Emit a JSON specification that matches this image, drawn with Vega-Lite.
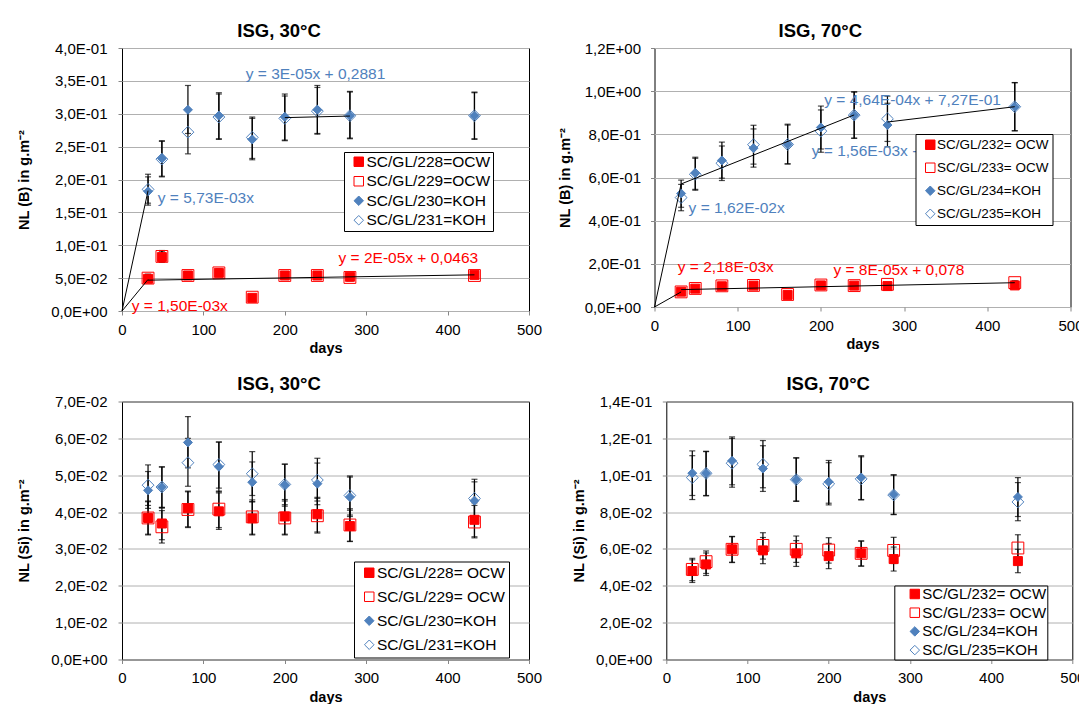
{
"$schema":"https://vega.github.io/schema/vega-lite/v6.json",
"background":"white",
"padding":{"left":16,"top":21,"right":0,"bottom":0},
"spacing":18.5,
"datasets":{
"pts":[
{"p":"B30","s":"SC/GL/228=OCW","k":"f","d":32,"v":0.049,"lo":0.044,"hi":0.055},
{"p":"B30","s":"SC/GL/228=OCW","k":"f","d":49,"v":0.082,"lo":0.074,"hi":0.091},
{"p":"B30","s":"SC/GL/228=OCW","k":"f","d":81,"v":0.054,"lo":0.049,"hi":0.059},
{"p":"B30","s":"SC/GL/228=OCW","k":"f","d":119,"v":0.058,"lo":0.053,"hi":0.063},
{"p":"B30","s":"SC/GL/228=OCW","k":"f","d":160,"v":0.020,"lo":0.018,"hi":0.022},
{"p":"B30","s":"SC/GL/228=OCW","k":"f","d":200,"v":0.054,"lo":0.049,"hi":0.059},
{"p":"B30","s":"SC/GL/228=OCW","k":"f","d":240,"v":0.054,"lo":0.049,"hi":0.059},
{"p":"B30","s":"SC/GL/228=OCW","k":"f","d":280,"v":0.052,"lo":0.047,"hi":0.057},
{"p":"B30","s":"SC/GL/228=OCW","k":"f","d":433,"v":0.055,"lo":0.050,"hi":0.060},
{"p":"B30","s":"SC/GL/229=OCW","k":"o","d":32,"v":0.050,"lo":0.045,"hi":0.056},
{"p":"B30","s":"SC/GL/229=OCW","k":"o","d":49,"v":0.083,"lo":0.075,"hi":0.092},
{"p":"B30","s":"SC/GL/229=OCW","k":"o","d":81,"v":0.054,"lo":0.049,"hi":0.059},
{"p":"B30","s":"SC/GL/229=OCW","k":"o","d":119,"v":0.058,"lo":0.053,"hi":0.064},
{"p":"B30","s":"SC/GL/229=OCW","k":"o","d":160,"v":0.021,"lo":0.019,"hi":0.023},
{"p":"B30","s":"SC/GL/229=OCW","k":"o","d":200,"v":0.054,"lo":0.049,"hi":0.059},
{"p":"B30","s":"SC/GL/229=OCW","k":"o","d":240,"v":0.054,"lo":0.049,"hi":0.059},
{"p":"B30","s":"SC/GL/229=OCW","k":"o","d":280,"v":0.051,"lo":0.046,"hi":0.056},
{"p":"B30","s":"SC/GL/229=OCW","k":"o","d":433,"v":0.054,"lo":0.049,"hi":0.059},
{"p":"B30","s":"SC/GL/230=KOH","k":"f","d":32,"v":0.182,"lo":0.161,"hi":0.204},
{"p":"B30","s":"SC/GL/230=KOH","k":"f","d":49,"v":0.232,"lo":0.204,"hi":0.259},
{"p":"B30","s":"SC/GL/230=KOH","k":"f","d":81,"v":0.306,"lo":0.270,"hi":0.343},
{"p":"B30","s":"SC/GL/230=KOH","k":"f","d":119,"v":0.297,"lo":0.261,"hi":0.332},
{"p":"B30","s":"SC/GL/230=KOH","k":"f","d":160,"v":0.261,"lo":0.230,"hi":0.293},
{"p":"B30","s":"SC/GL/230=KOH","k":"f","d":200,"v":0.295,"lo":0.260,"hi":0.330},
{"p":"B30","s":"SC/GL/230=KOH","k":"f","d":240,"v":0.306,"lo":0.269,"hi":0.343},
{"p":"B30","s":"SC/GL/230=KOH","k":"f","d":280,"v":0.297,"lo":0.262,"hi":0.334},
{"p":"B30","s":"SC/GL/230=KOH","k":"f","d":433,"v":0.297,"lo":0.261,"hi":0.333},
{"p":"B30","s":"SC/GL/231=KOH","k":"o","d":32,"v":0.185,"lo":0.164,"hi":0.208},
{"p":"B30","s":"SC/GL/231=KOH","k":"o","d":49,"v":0.231,"lo":0.205,"hi":0.258},
{"p":"B30","s":"SC/GL/231=KOH","k":"o","d":81,"v":0.272,"lo":0.239,"hi":0.305},
{"p":"B30","s":"SC/GL/231=KOH","k":"o","d":119,"v":0.295,"lo":0.262,"hi":0.330},
{"p":"B30","s":"SC/GL/231=KOH","k":"o","d":160,"v":0.264,"lo":0.232,"hi":0.295},
{"p":"B30","s":"SC/GL/231=KOH","k":"o","d":200,"v":0.293,"lo":0.259,"hi":0.327},
{"p":"B30","s":"SC/GL/231=KOH","k":"o","d":240,"v":0.304,"lo":0.270,"hi":0.340},
{"p":"B30","s":"SC/GL/231=KOH","k":"o","d":280,"v":0.297,"lo":0.263,"hi":0.333},
{"p":"B30","s":"SC/GL/231=KOH","k":"o","d":433,"v":0.297,"lo":0.262,"hi":0.332},

{"p":"B70","s":"SC/GL/232= OCW","k":"f","d":32,"v":0.071,"lo":0.065,"hi":0.077},
{"p":"B70","s":"SC/GL/232= OCW","k":"f","d":49,"v":0.085,"lo":0.078,"hi":0.092},
{"p":"B70","s":"SC/GL/232= OCW","k":"f","d":81,"v":0.096,"lo":0.088,"hi":0.104},
{"p":"B70","s":"SC/GL/232= OCW","k":"f","d":119,"v":0.099,"lo":0.091,"hi":0.107},
{"p":"B70","s":"SC/GL/232= OCW","k":"f","d":160,"v":0.056,"lo":0.051,"hi":0.061},
{"p":"B70","s":"SC/GL/232= OCW","k":"f","d":200,"v":0.100,"lo":0.092,"hi":0.108},
{"p":"B70","s":"SC/GL/232= OCW","k":"f","d":240,"v":0.099,"lo":0.091,"hi":0.107},
{"p":"B70","s":"SC/GL/232= OCW","k":"f","d":280,"v":0.097,"lo":0.089,"hi":0.105},
{"p":"B70","s":"SC/GL/232= OCW","k":"f","d":433,"v":0.100,"lo":0.092,"hi":0.108},
{"p":"B70","s":"SC/GL/233= OCW","k":"o","d":32,"v":0.070,"lo":0.064,"hi":0.076},
{"p":"B70","s":"SC/GL/233= OCW","k":"o","d":49,"v":0.086,"lo":0.079,"hi":0.093},
{"p":"B70","s":"SC/GL/233= OCW","k":"o","d":81,"v":0.098,"lo":0.090,"hi":0.106},
{"p":"B70","s":"SC/GL/233= OCW","k":"o","d":119,"v":0.100,"lo":0.092,"hi":0.108},
{"p":"B70","s":"SC/GL/233= OCW","k":"o","d":160,"v":0.058,"lo":0.053,"hi":0.063},
{"p":"B70","s":"SC/GL/233= OCW","k":"o","d":200,"v":0.102,"lo":0.094,"hi":0.110},
{"p":"B70","s":"SC/GL/233= OCW","k":"o","d":240,"v":0.099,"lo":0.091,"hi":0.107},
{"p":"B70","s":"SC/GL/233= OCW","k":"o","d":280,"v":0.105,"lo":0.097,"hi":0.113},
{"p":"B70","s":"SC/GL/233= OCW","k":"o","d":433,"v":0.113,"lo":0.104,"hi":0.122},
{"p":"B70","s":"SC/GL/234=KOH","k":"f","d":32,"v":0.526,"lo":0.462,"hi":0.588},
{"p":"B70","s":"SC/GL/234=KOH","k":"f","d":49,"v":0.620,"lo":0.545,"hi":0.694},
{"p":"B70","s":"SC/GL/234=KOH","k":"f","d":81,"v":0.679,"lo":0.597,"hi":0.764},
{"p":"B70","s":"SC/GL/234=KOH","k":"f","d":119,"v":0.736,"lo":0.648,"hi":0.825},
{"p":"B70","s":"SC/GL/234=KOH","k":"f","d":160,"v":0.753,"lo":0.663,"hi":0.847},
{"p":"B70","s":"SC/GL/234=KOH","k":"f","d":200,"v":0.832,"lo":0.732,"hi":0.931},
{"p":"B70","s":"SC/GL/234=KOH","k":"f","d":240,"v":0.889,"lo":0.782,"hi":0.997},
{"p":"B70","s":"SC/GL/234=KOH","k":"f","d":280,"v":0.843,"lo":0.742,"hi":0.944},
{"p":"B70","s":"SC/GL/234=KOH","k":"f","d":433,"v":0.928,"lo":0.816,"hi":1.040},
{"p":"B70","s":"SC/GL/235=KOH","k":"o","d":32,"v":0.507,"lo":0.446,"hi":0.568},
{"p":"B70","s":"SC/GL/235=KOH","k":"o","d":49,"v":0.615,"lo":0.541,"hi":0.689},
{"p":"B70","s":"SC/GL/235=KOH","k":"o","d":81,"v":0.666,"lo":0.586,"hi":0.746},
{"p":"B70","s":"SC/GL/235=KOH","k":"o","d":119,"v":0.752,"lo":0.662,"hi":0.842},
{"p":"B70","s":"SC/GL/235=KOH","k":"o","d":160,"v":0.753,"lo":0.663,"hi":0.843},
{"p":"B70","s":"SC/GL/235=KOH","k":"o","d":200,"v":0.815,"lo":0.717,"hi":0.913},
{"p":"B70","s":"SC/GL/235=KOH","k":"o","d":240,"v":0.889,"lo":0.782,"hi":0.996},
{"p":"B70","s":"SC/GL/235=KOH","k":"o","d":280,"v":0.872,"lo":0.767,"hi":0.977},
{"p":"B70","s":"SC/GL/235=KOH","k":"o","d":433,"v":0.928,"lo":0.817,"hi":1.039},

{"p":"S30","s":"SC/GL/228= OCW","k":"f","d":32,"v":0.0384,"lo":0.0338,"hi":0.0430},
{"p":"S30","s":"SC/GL/228= OCW","k":"f","d":49,"v":0.0369,"lo":0.0325,"hi":0.0411},
{"p":"S30","s":"SC/GL/228= OCW","k":"f","d":81,"v":0.0410,"lo":0.0360,"hi":0.0457},
{"p":"S30","s":"SC/GL/228= OCW","k":"f","d":119,"v":0.0402,"lo":0.0353,"hi":0.0452},
{"p":"S30","s":"SC/GL/228= OCW","k":"f","d":160,"v":0.0383,"lo":0.0338,"hi":0.0428},
{"p":"S30","s":"SC/GL/228= OCW","k":"f","d":200,"v":0.0388,"lo":0.0340,"hi":0.0434},
{"p":"S30","s":"SC/GL/228= OCW","k":"f","d":240,"v":0.0394,"lo":0.0346,"hi":0.0440},
{"p":"S30","s":"SC/GL/228= OCW","k":"f","d":280,"v":0.0362,"lo":0.0320,"hi":0.0405},
{"p":"S30","s":"SC/GL/228= OCW","k":"f","d":433,"v":0.0379,"lo":0.0333,"hi":0.0425},
{"p":"S30","s":"SC/GL/229= OCW","k":"o","d":32,"v":0.0384,"lo":0.0340,"hi":0.0428},
{"p":"S30","s":"SC/GL/229= OCW","k":"o","d":49,"v":0.0360,"lo":0.0316,"hi":0.0404},
{"p":"S30","s":"SC/GL/229= OCW","k":"o","d":81,"v":0.0407,"lo":0.0358,"hi":0.0455},
{"p":"S30","s":"SC/GL/229= OCW","k":"o","d":119,"v":0.0408,"lo":0.0358,"hi":0.0457},
{"p":"S30","s":"SC/GL/229= OCW","k":"o","d":160,"v":0.0387,"lo":0.0340,"hi":0.0433},
{"p":"S30","s":"SC/GL/229= OCW","k":"o","d":200,"v":0.0384,"lo":0.0338,"hi":0.0430},
{"p":"S30","s":"SC/GL/229= OCW","k":"o","d":240,"v":0.0390,"lo":0.0343,"hi":0.0437},
{"p":"S30","s":"SC/GL/229= OCW","k":"o","d":280,"v":0.0365,"lo":0.0321,"hi":0.0409},
{"p":"S30","s":"SC/GL/229= OCW","k":"o","d":433,"v":0.0373,"lo":0.0330,"hi":0.0418},
{"p":"S30","s":"SC/GL/230=KOH","k":"f","d":32,"v":0.0459,"lo":0.0410,"hi":0.0510},
{"p":"S30","s":"SC/GL/230=KOH","k":"f","d":49,"v":0.0468,"lo":0.0412,"hi":0.0522},
{"p":"S30","s":"SC/GL/230=KOH","k":"f","d":81,"v":0.0589,"lo":0.0520,"hi":0.0659},
{"p":"S30","s":"SC/GL/230=KOH","k":"f","d":119,"v":0.0523,"lo":0.0455,"hi":0.0590},
{"p":"S30","s":"SC/GL/230=KOH","k":"f","d":160,"v":0.0481,"lo":0.0428,"hi":0.0536},
{"p":"S30","s":"SC/GL/230=KOH","k":"f","d":200,"v":0.0474,"lo":0.0416,"hi":0.0530},
{"p":"S30","s":"SC/GL/230=KOH","k":"f","d":240,"v":0.0477,"lo":0.0420,"hi":0.0533},
{"p":"S30","s":"SC/GL/230=KOH","k":"f","d":280,"v":0.0441,"lo":0.0388,"hi":0.0495},
{"p":"S30","s":"SC/GL/230=KOH","k":"f","d":433,"v":0.0431,"lo":0.0380,"hi":0.0482},
{"p":"S30","s":"SC/GL/231=KOH","k":"o","d":32,"v":0.0473,"lo":0.0418,"hi":0.0528},
{"p":"S30","s":"SC/GL/231=KOH","k":"o","d":49,"v":0.0468,"lo":0.0413,"hi":0.0523},
{"p":"S30","s":"SC/GL/231=KOH","k":"o","d":81,"v":0.0534,"lo":0.0470,"hi":0.0600},
{"p":"S30","s":"SC/GL/231=KOH","k":"o","d":119,"v":0.0529,"lo":0.0465,"hi":0.0590},
{"p":"S30","s":"SC/GL/231=KOH","k":"o","d":160,"v":0.0504,"lo":0.0445,"hi":0.0564},
{"p":"S30","s":"SC/GL/231=KOH","k":"o","d":200,"v":0.0475,"lo":0.0420,"hi":0.0530},
{"p":"S30","s":"SC/GL/231=KOH","k":"o","d":240,"v":0.0487,"lo":0.0430,"hi":0.0546},
{"p":"S30","s":"SC/GL/231=KOH","k":"o","d":280,"v":0.0445,"lo":0.0392,"hi":0.0498},
{"p":"S30","s":"SC/GL/231=KOH","k":"o","d":433,"v":0.0437,"lo":0.0385,"hi":0.0489},

{"p":"S70","s":"SC/GL/232= OCW","k":"f","d":32,"v":0.0480,"lo":0.0418,"hi":0.0541},
{"p":"S70","s":"SC/GL/232= OCW","k":"f","d":49,"v":0.0516,"lo":0.0456,"hi":0.0578},
{"p":"S70","s":"SC/GL/232= OCW","k":"f","d":81,"v":0.0598,"lo":0.0526,"hi":0.0668},
{"p":"S70","s":"SC/GL/232= OCW","k":"f","d":119,"v":0.0592,"lo":0.0520,"hi":0.0662},
{"p":"S70","s":"SC/GL/232= OCW","k":"f","d":160,"v":0.0576,"lo":0.0505,"hi":0.0645},
{"p":"S70","s":"SC/GL/232= OCW","k":"f","d":200,"v":0.0561,"lo":0.0493,"hi":0.0630},
{"p":"S70","s":"SC/GL/232= OCW","k":"f","d":240,"v":0.0576,"lo":0.0507,"hi":0.0643},
{"p":"S70","s":"SC/GL/232= OCW","k":"f","d":280,"v":0.0545,"lo":0.0480,"hi":0.0610},
{"p":"S70","s":"SC/GL/232= OCW","k":"f","d":433,"v":0.0534,"lo":0.0471,"hi":0.0598},
{"p":"S70","s":"SC/GL/233= OCW","k":"o","d":32,"v":0.0489,"lo":0.0428,"hi":0.0549},
{"p":"S70","s":"SC/GL/233= OCW","k":"o","d":49,"v":0.0531,"lo":0.0467,"hi":0.0589},
{"p":"S70","s":"SC/GL/233= OCW","k":"o","d":81,"v":0.0598,"lo":0.0528,"hi":0.0666},
{"p":"S70","s":"SC/GL/233= OCW","k":"o","d":119,"v":0.0619,"lo":0.0545,"hi":0.0688},
{"p":"S70","s":"SC/GL/233= OCW","k":"o","d":160,"v":0.0598,"lo":0.0527,"hi":0.0670},
{"p":"S70","s":"SC/GL/233= OCW","k":"o","d":200,"v":0.0594,"lo":0.0523,"hi":0.0661},
{"p":"S70","s":"SC/GL/233= OCW","k":"o","d":240,"v":0.0576,"lo":0.0507,"hi":0.0643},
{"p":"S70","s":"SC/GL/233= OCW","k":"o","d":280,"v":0.0592,"lo":0.0521,"hi":0.0663},
{"p":"S70","s":"SC/GL/233= OCW","k":"o","d":433,"v":0.0605,"lo":0.0532,"hi":0.0677},
{"p":"S70","s":"SC/GL/234=KOH","k":"f","d":32,"v":0.1011,"lo":0.0890,"hi":0.1132},
{"p":"S70","s":"SC/GL/234=KOH","k":"f","d":49,"v":0.1011,"lo":0.0890,"hi":0.1128},
{"p":"S70","s":"SC/GL/234=KOH","k":"f","d":81,"v":0.1078,"lo":0.0948,"hi":0.1208},
{"p":"S70","s":"SC/GL/234=KOH","k":"f","d":119,"v":0.1036,"lo":0.0912,"hi":0.1160},
{"p":"S70","s":"SC/GL/234=KOH","k":"f","d":160,"v":0.0976,"lo":0.0860,"hi":0.1093},
{"p":"S70","s":"SC/GL/234=KOH","k":"f","d":200,"v":0.0964,"lo":0.0848,"hi":0.1080},
{"p":"S70","s":"SC/GL/234=KOH","k":"f","d":240,"v":0.0987,"lo":0.0868,"hi":0.1106},
{"p":"S70","s":"SC/GL/234=KOH","k":"f","d":280,"v":0.0895,"lo":0.0788,"hi":0.1003},
{"p":"S70","s":"SC/GL/234=KOH","k":"f","d":433,"v":0.0882,"lo":0.0776,"hi":0.0987},
{"p":"S70","s":"SC/GL/235=KOH","k":"o","d":32,"v":0.0987,"lo":0.0868,"hi":0.1106},
{"p":"S70","s":"SC/GL/235=KOH","k":"o","d":49,"v":0.1010,"lo":0.0888,"hi":0.1130},
{"p":"S70","s":"SC/GL/235=KOH","k":"o","d":81,"v":0.1065,"lo":0.0935,"hi":0.1200},
{"p":"S70","s":"SC/GL/235=KOH","k":"o","d":119,"v":0.1059,"lo":0.0932,"hi":0.1188},
{"p":"S70","s":"SC/GL/235=KOH","k":"o","d":160,"v":0.0976,"lo":0.0858,"hi":0.1095},
{"p":"S70","s":"SC/GL/235=KOH","k":"o","d":200,"v":0.0953,"lo":0.0839,"hi":0.1068},
{"p":"S70","s":"SC/GL/235=KOH","k":"o","d":240,"v":0.0980,"lo":0.0866,"hi":0.1100},
{"p":"S70","s":"SC/GL/235=KOH","k":"o","d":280,"v":0.0893,"lo":0.0786,"hi":0.1000},
{"p":"S70","s":"SC/GL/235=KOH","k":"o","d":433,"v":0.0855,"lo":0.0753,"hi":0.0960}
],
"trend":[
{"p":"B30","seg":"o1","d":0,"v":0},{"p":"B30","seg":"o1","d":32,"v":0.048},
{"p":"B30","seg":"o2","d":32,"v":0.0469},{"p":"B30","seg":"o2","d":433,"v":0.0550},
{"p":"B30","seg":"k1","d":0,"v":0},{"p":"B30","seg":"k1","d":32,"v":0.183},
{"p":"B30","seg":"k2","d":200,"v":0.2941},{"p":"B30","seg":"k2","d":280,"v":0.2965},
{"p":"B70","seg":"o1","d":0,"v":0},{"p":"B70","seg":"o1","d":32,"v":0.0698},
{"p":"B70","seg":"o2","d":32,"v":0.0806},{"p":"B70","seg":"o2","d":433,"v":0.1126},
{"p":"B70","seg":"k1","d":0,"v":0},{"p":"B70","seg":"k1","d":32,"v":0.570},
{"p":"B70","seg":"k2","d":32,"v":0.570},{"p":"B70","seg":"k2","d":240,"v":0.890},
{"p":"B70","seg":"k3","d":280,"v":0.857},{"p":"B70","seg":"k3","d":433,"v":0.928}
],
"labels":[
{"p":"B30","t":"y = 3E-05x + 0,2881","d":152,"v":0.361,"g":"KOH"},
{"p":"B30","t":"y = 5,73E-03x","d":44,"v":0.172,"g":"KOH"},
{"p":"B30","t":"y = 2E-05x + 0,0463","d":266,"v":0.081,"g":"OCW"},
{"p":"B30","t":"y = 1,50E-03x","d":12,"v":0.0076,"g":"OCW"},
{"p":"B70","t":"y = 4,64E-04x + 7,27E-01","d":204,"v":0.960,"g":"KOH"},
{"p":"B70","t":"y = 1,56E-03x + 5,20E-01","d":189,"v":0.722,"g":"KOH"},
{"p":"B70","t":"y = 1,62E-02x","d":41,"v":0.458,"g":"KOH"},
{"p":"B70","t":"y = 2,18E-03x","d":28,"v":0.187,"g":"OCW"},
{"p":"B70","t":"y = 8E-05x + 0,078","d":215,"v":0.173,"g":"OCW"}
]
},
"vconcat":[
{"hconcat":[
{"width":407,"height":263,"title":{"text":"ISG, 30°C"},
"layer":[
{"data":{"name":"pts"},"transform":[{"filter":"datum.p == 'B30'"}],
"mark":{"type":"errorbar","color":"black","thickness":1.2,"ticks":{"size":6}},
"encoding":{"x":{"field":"d","type":"quantitative","title":"days","scale":{"domain":[0,500],"nice":false},"axis":{"values":[0,100,200,300,400,500]}},
"y":{"field":"lo","type":"quantitative","title":"NL (B) in g.m⁻²","scale":{"domain":[0,0.4],"nice":false},"axis":{"values":[0,0.05,0.1,0.15,0.2,0.25,0.3,0.35,0.4],"titlePadding":19}},"y2":{"field":"hi"}}},
{"data":{"name":"pts"},"transform":[{"filter":"datum.p == 'B30' && datum.k == 'f'"}],
"mark":{"type":"point","size":81,"strokeWidth":1,"opacity":1},
"encoding":{"x":{"field":"d","type":"quantitative","title":"days","scale":{"domain":[0,500],"nice":false},"axis":{"values":[0,100,200,300,400,500]}},
"y":{"field":"v","type":"quantitative","title":"NL (B) in g.m⁻²","scale":{"domain":[0,0.4],"nice":false},"axis":{"values":[0,0.05,0.1,0.15,0.2,0.25,0.3,0.35,0.4],"titlePadding":19}},
"shape":{"field":"s","type":"nominal","title":null,"scale":{"domain":["SC/GL/228=OCW","SC/GL/229=OCW","SC/GL/230=KOH","SC/GL/231=KOH"],"range":["square","square","diamond","diamond"]},"legend":{"orient":"none","legendX":222,"legendY":104,"labelFontSize":15.5,"rowPadding":2.5,"padding":2,"symbolOffset":5,"labelExpr":"datum.label + '\u00a0\u00a0\u00a0\u00a0\u00a0'"}},
"fill":{"field":"s","type":"nominal","title":null,"scale":{"domain":["SC/GL/228=OCW","SC/GL/229=OCW","SC/GL/230=KOH","SC/GL/231=KOH"],"range":["#FF0000","transparent","#4F81BD","transparent"]},"legend":{"orient":"none","legendX":222,"legendY":104,"labelFontSize":15.5,"rowPadding":2.5,"padding":2,"symbolOffset":5,"labelExpr":"datum.label + '\u00a0\u00a0\u00a0\u00a0\u00a0'"}},
"stroke":{"field":"s","type":"nominal","title":null,"scale":{"domain":["SC/GL/228=OCW","SC/GL/229=OCW","SC/GL/230=KOH","SC/GL/231=KOH"],"range":["#FF0000","#FF0000","#4F81BD","#4F81BD"]},"legend":{"orient":"none","legendX":222,"legendY":104,"labelFontSize":15.5,"rowPadding":2.5,"padding":2,"symbolOffset":5,"labelExpr":"datum.label + '\u00a0\u00a0\u00a0\u00a0\u00a0'"}}}},
{"data":{"name":"pts"},"transform":[{"filter":"datum.p == 'B30' && datum.k == 'o'"}],
"mark":{"type":"point","size":140,"strokeWidth":1,"opacity":1},
"encoding":{"x":{"field":"d","type":"quantitative","title":"days","scale":{"domain":[0,500],"nice":false},"axis":{"values":[0,100,200,300,400,500]}},
"y":{"field":"v","type":"quantitative","title":"NL (B) in g.m⁻²","scale":{"domain":[0,0.4],"nice":false},"axis":{"values":[0,0.05,0.1,0.15,0.2,0.25,0.3,0.35,0.4],"titlePadding":19}},
"shape":{"field":"s","type":"nominal","title":null},
"fill":{"field":"s","type":"nominal","title":null},
"stroke":{"field":"s","type":"nominal","title":null}}},
{"data":{"name":"trend"},"transform":[{"filter":"datum.p == 'B30'"}],
"mark":{"type":"line","color":"black","strokeWidth":1},
"encoding":{"x":{"field":"d","type":"quantitative","title":"days","scale":{"domain":[0,500],"nice":false},"axis":{"values":[0,100,200,300,400,500]}},
"y":{"field":"v","type":"quantitative","title":"NL (B) in g.m⁻²","scale":{"domain":[0,0.4],"nice":false},"axis":{"values":[0,0.05,0.1,0.15,0.2,0.25,0.3,0.35,0.4],"titlePadding":19}},
"detail":{"field":"seg","type":"nominal"}}},
{"data":{"name":"labels"},"transform":[{"filter":"datum.p == 'B30'"}],
"mark":{"type":"text","align":"left","baseline":"middle","fontSize":15.5,"font":"Liberation Sans"},
"encoding":{"x":{"field":"d","type":"quantitative","title":"days","scale":{"domain":[0,500],"nice":false},"axis":{"values":[0,100,200,300,400,500]}},
"y":{"field":"v","type":"quantitative","title":"NL (B) in g.m⁻²","scale":{"domain":[0,0.4],"nice":false},"axis":{"values":[0,0.05,0.1,0.15,0.2,0.25,0.3,0.35,0.4],"titlePadding":19}},
"text":{"field":"t"},
"color":{"field":"g","type":"nominal","scale":{"domain":["OCW","KOH"],"range":["#FF0000","#4F81BD"]},"legend":null}}}
]},
{"width":416,"height":259,"title":{"text":"ISG, 70°C"},
"layer":[
{"data":{"name":"pts"},"transform":[{"filter":"datum.p == 'B70'"}],
"mark":{"type":"errorbar","color":"black","thickness":1.2,"ticks":{"size":6}},
"encoding":{"x":{"field":"d","type":"quantitative","title":"days","scale":{"domain":[0,500],"nice":false},"axis":{"values":[0,100,200,300,400,500]}},
"y":{"field":"lo","type":"quantitative","title":"NL (B) in g.m⁻²","scale":{"domain":[0,1.2],"nice":false},"axis":{"values":[0,0.2,0.4,0.6,0.8,1,1.2],"labelPadding":10,"titlePadding":11.5}},"y2":{"field":"hi"}}},
{"data":{"name":"pts"},"transform":[{"filter":"datum.p == 'B70' && datum.k == 'f'"}],
"mark":{"type":"point","size":81,"strokeWidth":1,"opacity":1},
"encoding":{"x":{"field":"d","type":"quantitative","title":"days","scale":{"domain":[0,500],"nice":false},"axis":{"values":[0,100,200,300,400,500]}},
"y":{"field":"v","type":"quantitative","title":"NL (B) in g.m⁻²","scale":{"domain":[0,1.2],"nice":false},"axis":{"values":[0,0.2,0.4,0.6,0.8,1,1.2],"labelPadding":10,"titlePadding":11.5}},
"shape":{"field":"s","type":"nominal","title":null,"scale":{"domain":["SC/GL/232= OCW","SC/GL/233= OCW","SC/GL/234=KOH","SC/GL/235=KOH"],"range":["square","square","diamond","diamond"]},"legend":{"orient":"none","legendX":261,"legendY":86,"labelFontSize":13.5,"rowPadding":8,"padding":4,"symbolOffset":4}},
"fill":{"field":"s","type":"nominal","title":null,"scale":{"domain":["SC/GL/232= OCW","SC/GL/233= OCW","SC/GL/234=KOH","SC/GL/235=KOH"],"range":["#FF0000","transparent","#4F81BD","transparent"]},"legend":{"orient":"none","legendX":261,"legendY":86,"labelFontSize":13.5,"rowPadding":8,"padding":4,"symbolOffset":4}},
"stroke":{"field":"s","type":"nominal","title":null,"scale":{"domain":["SC/GL/232= OCW","SC/GL/233= OCW","SC/GL/234=KOH","SC/GL/235=KOH"],"range":["#FF0000","#FF0000","#4F81BD","#4F81BD"]},"legend":{"orient":"none","legendX":261,"legendY":86,"labelFontSize":13.5,"rowPadding":8,"padding":4,"symbolOffset":4}}}},
{"data":{"name":"pts"},"transform":[{"filter":"datum.p == 'B70' && datum.k == 'o'"}],
"mark":{"type":"point","size":140,"strokeWidth":1,"opacity":1},
"encoding":{"x":{"field":"d","type":"quantitative","title":"days","scale":{"domain":[0,500],"nice":false},"axis":{"values":[0,100,200,300,400,500]}},
"y":{"field":"v","type":"quantitative","title":"NL (B) in g.m⁻²","scale":{"domain":[0,1.2],"nice":false},"axis":{"values":[0,0.2,0.4,0.6,0.8,1,1.2],"labelPadding":10,"titlePadding":11.5}},
"shape":{"field":"s","type":"nominal","title":null},
"fill":{"field":"s","type":"nominal","title":null},
"stroke":{"field":"s","type":"nominal","title":null}}},
{"data":{"name":"trend"},"transform":[{"filter":"datum.p == 'B70'"}],
"mark":{"type":"line","color":"black","strokeWidth":1},
"encoding":{"x":{"field":"d","type":"quantitative","title":"days","scale":{"domain":[0,500],"nice":false},"axis":{"values":[0,100,200,300,400,500]}},
"y":{"field":"v","type":"quantitative","title":"NL (B) in g.m⁻²","scale":{"domain":[0,1.2],"nice":false},"axis":{"values":[0,0.2,0.4,0.6,0.8,1,1.2],"labelPadding":10,"titlePadding":11.5}},
"detail":{"field":"seg","type":"nominal"}}},
{"data":{"name":"labels"},"transform":[{"filter":"datum.p == 'B70'"}],
"mark":{"type":"text","align":"left","baseline":"middle","fontSize":15.5,"font":"Liberation Sans"},
"encoding":{"x":{"field":"d","type":"quantitative","title":"days","scale":{"domain":[0,500],"nice":false},"axis":{"values":[0,100,200,300,400,500]}},
"y":{"field":"v","type":"quantitative","title":"NL (B) in g.m⁻²","scale":{"domain":[0,1.2],"nice":false},"axis":{"values":[0,0.2,0.4,0.6,0.8,1,1.2],"labelPadding":10,"titlePadding":11.5}},
"text":{"field":"t"},
"color":{"field":"g","type":"nominal","scale":{"domain":["OCW","KOH"],"range":["#FF0000","#4F81BD"]},"legend":null}}}
]}
],"spacing":13.5,
"resolve":{"scale":{"shape":"independent","fill":"independent","stroke":"independent","color":"independent"},"legend":{"shape":"independent","fill":"independent","stroke":"independent"}}},
{"hconcat":[
{"width":407,"height":258,"title":{"text":"ISG, 30°C"},
"layer":[
{"data":{"name":"pts"},"transform":[{"filter":"datum.p == 'S30'"}],
"mark":{"type":"errorbar","color":"black","thickness":1.2,"ticks":{"size":6}},
"encoding":{"x":{"field":"d","type":"quantitative","title":"days","scale":{"domain":[0,500],"nice":false},"axis":{"values":[0,100,200,300,400,500]}},
"y":{"field":"lo","type":"quantitative","title":"NL (Si) in g.m⁻²","scale":{"domain":[0,0.07],"nice":false},"axis":{"values":[0,0.01,0.02,0.03,0.04,0.05,0.06,0.07],"titlePadding":19}},"y2":{"field":"hi"}}},
{"data":{"name":"pts"},"transform":[{"filter":"datum.p == 'S30' && datum.k == 'f'"}],
"mark":{"type":"point","size":81,"strokeWidth":1,"opacity":1},
"encoding":{"x":{"field":"d","type":"quantitative","title":"days","scale":{"domain":[0,500],"nice":false},"axis":{"values":[0,100,200,300,400,500]}},
"y":{"field":"v","type":"quantitative","title":"NL (Si) in g.m⁻²","scale":{"domain":[0,0.07],"nice":false},"axis":{"values":[0,0.01,0.02,0.03,0.04,0.05,0.06,0.07],"titlePadding":19}},
"shape":{"field":"s","type":"nominal","title":null,"scale":{"domain":["SC/GL/228= OCW","SC/GL/229= OCW","SC/GL/230=KOH","SC/GL/231=KOH"],"range":["square","square","diamond","diamond"]},"legend":{"orient":"none","legendX":232,"legendY":160,"labelFontSize":15.5,"rowPadding":7,"padding":3.5,"symbolOffset":4}},
"fill":{"field":"s","type":"nominal","title":null,"scale":{"domain":["SC/GL/228= OCW","SC/GL/229= OCW","SC/GL/230=KOH","SC/GL/231=KOH"],"range":["#FF0000","transparent","#4F81BD","transparent"]},"legend":{"orient":"none","legendX":232,"legendY":160,"labelFontSize":15.5,"rowPadding":7,"padding":3.5,"symbolOffset":4}},
"stroke":{"field":"s","type":"nominal","title":null,"scale":{"domain":["SC/GL/228= OCW","SC/GL/229= OCW","SC/GL/230=KOH","SC/GL/231=KOH"],"range":["#FF0000","#FF0000","#4F81BD","#4F81BD"]},"legend":{"orient":"none","legendX":232,"legendY":160,"labelFontSize":15.5,"rowPadding":7,"padding":3.5,"symbolOffset":4}}}},
{"data":{"name":"pts"},"transform":[{"filter":"datum.p == 'S30' && datum.k == 'o'"}],
"mark":{"type":"point","size":140,"strokeWidth":1,"opacity":1},
"encoding":{"x":{"field":"d","type":"quantitative","title":"days","scale":{"domain":[0,500],"nice":false},"axis":{"values":[0,100,200,300,400,500]}},
"y":{"field":"v","type":"quantitative","title":"NL (Si) in g.m⁻²","scale":{"domain":[0,0.07],"nice":false},"axis":{"values":[0,0.01,0.02,0.03,0.04,0.05,0.06,0.07],"titlePadding":19}},
"shape":{"field":"s","type":"nominal","title":null},
"fill":{"field":"s","type":"nominal","title":null},
"stroke":{"field":"s","type":"nominal","title":null}}}
]},
{"width":406,"height":258,"title":{"text":"ISG, 70°C"},
"layer":[
{"data":{"name":"pts"},"transform":[{"filter":"datum.p == 'S70'"}],
"mark":{"type":"errorbar","color":"black","thickness":1.2,"ticks":{"size":6}},
"encoding":{"x":{"field":"d","type":"quantitative","title":"days","scale":{"domain":[0,500],"nice":false},"axis":{"values":[0,100,200,300,400,500]}},
"y":{"field":"lo","type":"quantitative","title":"NL (Si) in g.m⁻²","scale":{"domain":[0,0.14],"nice":false},"axis":{"values":[0,0.02,0.04,0.06,0.08,0.1,0.12,0.14],"labelPadding":10.5,"titlePadding":9}},"y2":{"field":"hi"}}},
{"data":{"name":"pts"},"transform":[{"filter":"datum.p == 'S70' && datum.k == 'f'"}],
"mark":{"type":"point","size":81,"strokeWidth":1,"opacity":1},
"encoding":{"x":{"field":"d","type":"quantitative","title":"days","scale":{"domain":[0,500],"nice":false},"axis":{"values":[0,100,200,300,400,500]}},
"y":{"field":"v","type":"quantitative","title":"NL (Si) in g.m⁻²","scale":{"domain":[0,0.14],"nice":false},"axis":{"values":[0,0.02,0.04,0.06,0.08,0.1,0.12,0.14],"labelPadding":10.5,"titlePadding":9}},
"shape":{"field":"s","type":"nominal","title":null,"scale":{"domain":["SC/GL/232= OCW","SC/GL/233= OCW","SC/GL/234=KOH","SC/GL/235=KOH"],"range":["square","square","diamond","diamond"]},"legend":{"orient":"none","legendX":228,"legendY":184,"labelFontSize":15,"rowPadding":2.7,"padding":1,"symbolOffset":12,"labelExpr":"datum.label + '\u00a0\u00a0\u00a0'"}},
"fill":{"field":"s","type":"nominal","title":null,"scale":{"domain":["SC/GL/232= OCW","SC/GL/233= OCW","SC/GL/234=KOH","SC/GL/235=KOH"],"range":["#FF0000","transparent","#4F81BD","transparent"]},"legend":{"orient":"none","legendX":228,"legendY":184,"labelFontSize":15,"rowPadding":2.7,"padding":1,"symbolOffset":12,"labelExpr":"datum.label + '\u00a0\u00a0\u00a0'"}},
"stroke":{"field":"s","type":"nominal","title":null,"scale":{"domain":["SC/GL/232= OCW","SC/GL/233= OCW","SC/GL/234=KOH","SC/GL/235=KOH"],"range":["#FF0000","#FF0000","#4F81BD","#4F81BD"]},"legend":{"orient":"none","legendX":228,"legendY":184,"labelFontSize":15,"rowPadding":2.7,"padding":1,"symbolOffset":12,"labelExpr":"datum.label + '\u00a0\u00a0\u00a0'"}}}},
{"data":{"name":"pts"},"transform":[{"filter":"datum.p == 'S70' && datum.k == 'o'"}],
"mark":{"type":"point","size":140,"strokeWidth":1,"opacity":1},
"encoding":{"x":{"field":"d","type":"quantitative","title":"days","scale":{"domain":[0,500],"nice":false},"axis":{"values":[0,100,200,300,400,500]}},
"y":{"field":"v","type":"quantitative","title":"NL (Si) in g.m⁻²","scale":{"domain":[0,0.14],"nice":false},"axis":{"values":[0,0.02,0.04,0.06,0.08,0.1,0.12,0.14],"labelPadding":10.5,"titlePadding":9}},
"shape":{"field":"s","type":"nominal","title":null},
"fill":{"field":"s","type":"nominal","title":null},
"stroke":{"field":"s","type":"nominal","title":null}}}
]}
],"spacing":27.3,
"resolve":{"scale":{"shape":"independent","fill":"independent","stroke":"independent","color":"independent"},"legend":{"shape":"independent","fill":"independent","stroke":"independent"}}}
],
"resolve":{"scale":{"shape":"independent","fill":"independent","stroke":"independent","color":"independent"},"legend":{"shape":"independent","fill":"independent","stroke":"independent"}},
"config":{
"font":"Liberation Sans",
"view":{"stroke":"black","strokeWidth":1},
"axis":{"labelFont":"Liberation Sans","labelFontSize":15,"labelColor":"black","labelOverlap":false,"titleFont":"Liberation Sans","titleFontSize":14.5,"titleFontWeight":"bold","titleColor":"black","domain":false,"tickColor":"#868686","tickSize":4,"gridColor":"#B0B0B0","gridWidth":1},
"axisX":{"grid":false,"labelPadding":7,"titlePadding":4.5,"labelFlush":false},
"axisY":{"grid":true,"labelPadding":11,"labelExpr":"datum.value == 0 ? '0,0E+00' : replace(format(datum.value / pow(10, floor(log(datum.value) / LN10 + 1e-9)), '.1f'), '.', ',') + 'E' + (floor(log(datum.value) / LN10 + 1e-9) < 0 ? '-' : '+') + (abs(floor(log(datum.value) / LN10 + 1e-9)) < 10 ? '0' : '') + abs(floor(log(datum.value) / LN10 + 1e-9))"},
"title":{"font":"Liberation Sans","fontSize":18.5,"fontWeight":"bold","color":"black","anchor":"middle","frame":"bounds","offset":1},
"legend":{"labelFont":"Liberation Sans","labelColor":"black","strokeColor":"black","fillColor":"white","symbolStrokeWidth":1,"symbolSize":90,"labelOffset":0,"labelLimit":400}
}
}
